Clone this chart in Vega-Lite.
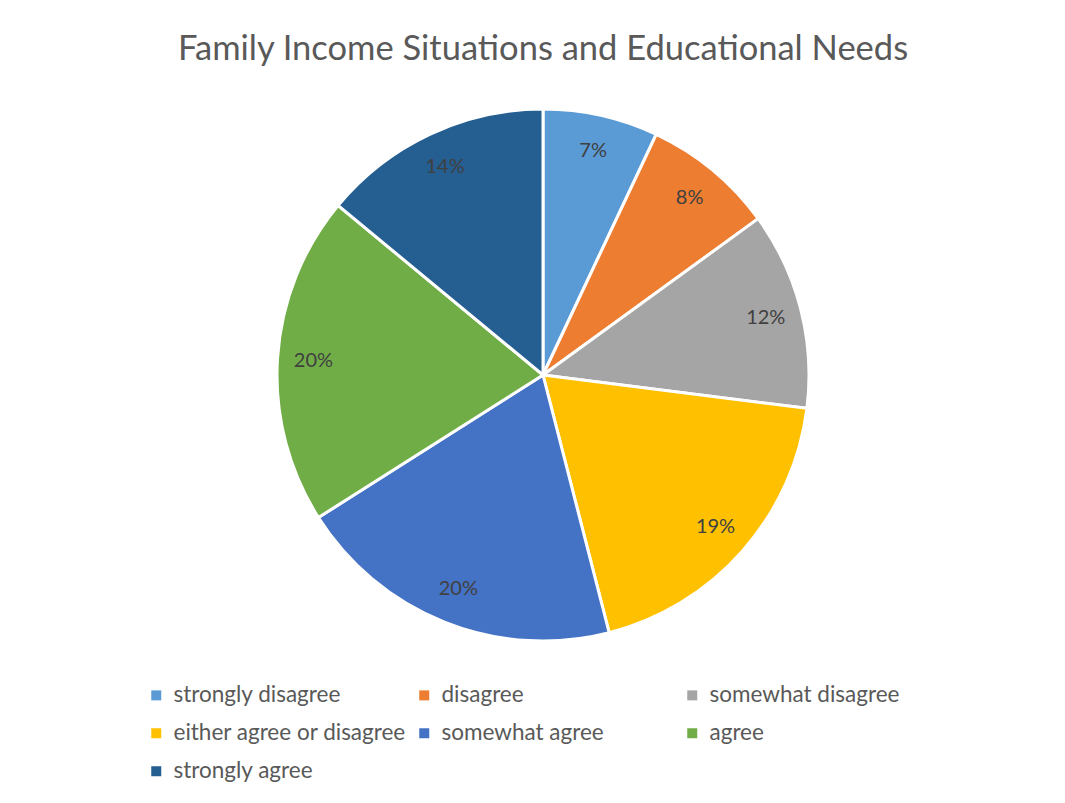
{
  "$schema": "https://vega.github.io/schema/vega-lite/v6.json",
  "width": 600,
  "height": 600,
  "padding": {"left": 243, "top": 75, "right": 222, "bottom": 128},
  "autosize": {"type": "none"},
  "background": "white",
  "title": {
    "text": "Family Income Situations and Educational Needs",
    "font": "Lato",
    "fontSize": 34.5,
    "fontWeight": "normal",
    "color": "#595959",
    "anchor": "middle",
    "limit": 1000,
    "offset": 8
  },
  "data": {
    "values": [
      {"category": "strongly disagree", "value": 7, "label": "7%", "order": 1},
      {"category": "disagree", "value": 8, "label": "8%", "order": 2},
      {"category": "somewhat disagree", "value": 12, "label": "12%", "order": 3},
      {"category": "either agree or disagree", "value": 19, "label": "19%", "order": 4},
      {"category": "somewhat agree", "value": 20, "label": "20%", "order": 5},
      {"category": "agree", "value": 20, "label": "20%", "order": 6},
      {"category": "strongly agree", "value": 14, "label": "14%", "order": 7}
    ]
  },
  "encoding": {
    "theta": {"field": "value", "type": "quantitative", "stack": true},
    "order": {"field": "order", "type": "quantitative"},
    "color": {
      "field": "category",
      "type": "nominal",
      "sort": null,
      "scale": {
        "domain": ["strongly disagree", "disagree", "somewhat disagree", "either agree or disagree", "somewhat agree", "agree", "strongly agree"],
        "range": ["#5B9BD5", "#ED7D31", "#A5A5A5", "#FFC000", "#4472C4", "#70AD47", "#255E91"]
      },
      "legend": {
        "title": null,
        "orient": "none",
        "direction": "horizontal",
        "legendX": -98,
        "legendY": 609,
        "columns": 3,
        "gridAlign": "all",
        "columnPadding": 6,
        "rowPadding": 15,
        "symbolType": "square",
        "symbolSize": 100,
        "symbolStrokeWidth": 0,
        "symbolOffset": 0,
        "labelFont": "Lato",
        "labelFontSize": 22.5,
        "labelColor": "#595959",
        "labelOffset": 6,
        "labelLimit": 400
      }
    }
  },
  "layer": [
    {
      "mark": {"type": "arc", "outerRadius": 266, "stroke": "white", "strokeWidth": 3}
    },
    {
      "mark": {"type": "text", "radius": 230, "font": "Lato", "fontSize": 20, "color": "#404040"},
      "encoding": {
        "text": {"field": "label"},
        "color": {"value": "#404040"}
      }
    }
  ],
  "config": {"view": {"stroke": null}}
}
